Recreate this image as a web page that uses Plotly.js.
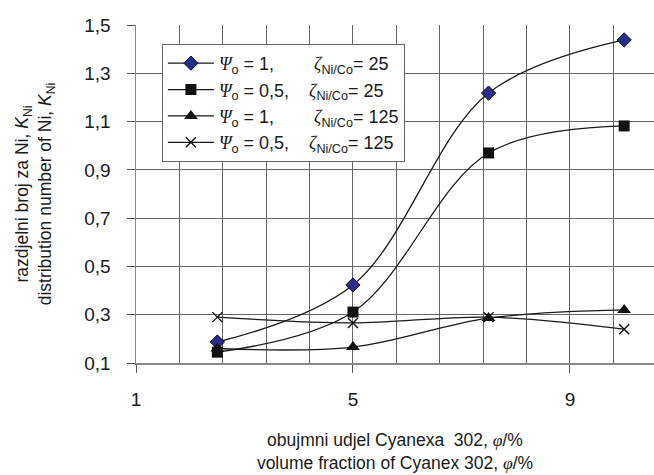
<!DOCTYPE html>
<html>
<head>
<meta charset="utf-8">
<script src="https://cdn.plot.ly/plotly-3.0.1.min.js"></script>
<style>html,body{margin:0;padding:0;background:#fff;}#chart{width:654px;height:475px;}</style>
</head>
<body>
<div id="chart"></div>
<script>
const xValues = [2.5, 5, 7.5, 10];
const kPsi1Z25 = [0.187, 0.423, 1.218, 1.438];
const kPsi05Z25 = [0.145, 0.311, 0.970, 1.082];
const kPsi1Z125 = [0.160, 0.166, 0.286, 0.320];
const kPsi05Z125 = [0.290, 0.266, 0.290, 0.240];
const yTickStart = 0.1, yTickStep = 0.2;
const xTickStart = 1, xTickStep = 4, xGridStep = 0.8;

const S = '\u00A0';
const serif = s => '<span style="font-family:\'Liberation Serif\',serif"><i>' + s + '</i></span>';
const names = [
  serif('Ψ') + '<sub>o</sub> = 1,' + S.repeat(8) + serif('ζ') + '<sub>Ni/Co</sub>= 25',
  serif('Ψ') + '<sub>o</sub> = 0,5,' + S.repeat(4) + serif('ζ') + '<sub>Ni/Co</sub>= 25',
  serif('Ψ') + '<sub>o</sub> = 1,' + S.repeat(8) + serif('ζ') + '<sub>Ni/Co</sub>= 125',
  serif('Ψ') + '<sub>o</sub> = 0,5,' + S.repeat(4) + serif('ζ') + '<sub>Ni/Co</sub>= 125'
];

const line = {color: '#1a1a1a', width: 1.3, shape: 'spline', smoothing: 1};
const traces = [
  {x: xValues, y: kPsi1Z25, name: names[0], mode: 'lines+markers', line: line,
   marker: {symbol: 'diamond', size: 11, color: '#2b2b8a', line: {color: '#111', width: 1}}},
  {x: xValues, y: kPsi05Z25, name: names[1], mode: 'lines+markers', line: line,
   marker: {symbol: 'square', size: 11, color: '#111', line: {color: '#111', width: 0}}},
  {x: xValues, y: kPsi1Z125, name: names[2], mode: 'lines+markers', line: line,
   marker: {symbol: 'triangle-up', size: 12, color: '#111', line: {color: '#111', width: 0}}},
  {x: xValues, y: kPsi05Z125, name: names[3], mode: 'lines+markers', line: line,
   marker: {symbol: 'x-thin', size: 10, color: '#111', line: {color: '#111', width: 1.4}}}
];

const layout = {
  width: 654, height: 475,
  margin: {l: 136, r: 0, t: 25, b: 112},
  separators: ', ',
  paper_bgcolor: '#fff', plot_bgcolor: '#fff',
  font: {family: 'Liberation Sans, Arial, sans-serif', color: '#1a1a1a', size: 16},
  showlegend: true,
  legend: {x: 0.05, y: 0.944, xanchor: 'left', yanchor: 'top',
           bgcolor: '#fff', bordercolor: '#666', borderwidth: 1,
           font: {size: 18, color: '#1a1a1a'}, itemwidth: 46, tracegroupgap: 0},
  xaxis: {
    range: [1, 10.55], tickmode: 'linear', tick0: xTickStart, dtick: xTickStep,
    ticks: 'outside', ticklen: 8, tickcolor: '#555', tickwidth: 1,
    showgrid: true, gridcolor: '#666', gridwidth: 1,
    minor: {tick0: xTickStart, dtick: xGridStep, showgrid: true, gridcolor: '#666', gridwidth: 1, ticks: ''},
    showline: true, linecolor: '#888', linewidth: 1.5, zeroline: false,
    tickfont: {size: 19}, ticklabelstandoff: 11,
    title: {text: 'obujmni udjel Cyanexa  302, ' + serif('φ') + '/%<br>volume fraction of Cyanex 302, ' + serif('φ') + '/%',
            font: {size: 17.5}, standoff: 24}
  },
  yaxis: {
    range: [0.1, 1.5], tickmode: 'linear', tick0: yTickStart, dtick: yTickStep, tickformat: '.1f',
    ticks: 'outside', ticklen: 8, tickcolor: '#555', tickwidth: 1,
    showgrid: true, gridcolor: '#666', gridwidth: 1,
    showline: true, linecolor: '#888', linewidth: 1.5, zeroline: false,
    tickfont: {size: 19}, ticklabelstandoff: 12,
    title: {text: 'razdjelni broj za Ni, <i>K</i><sub>Ni</sub><br>distribution number of Ni, <i>K</i><sub>Ni</sub>',
            font: {size: 17.5}, standoff: 28}
  }
};

Plotly.newPlot('chart', traces, layout, {displayModeBar: false, staticPlot: true});
</script>
</body>
</html>
